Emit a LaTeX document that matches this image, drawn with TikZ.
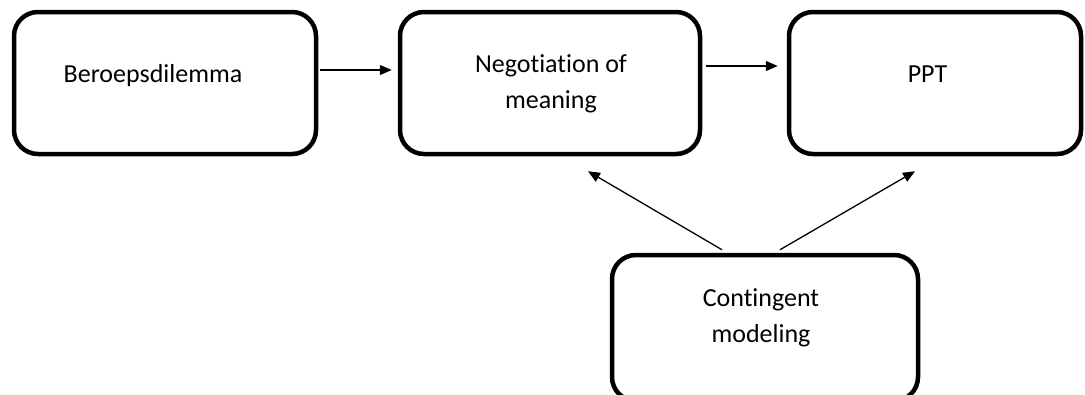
\documentclass[tikz,border=0pt]{standalone}
\usepackage{fontspec}
\setmainfont{Carlito}[Ligatures=NoCommon]
\usepackage{xcolor}
\usetikzlibrary{arrows.meta, positioning, calc}

\tikzset{
  stagebox/.style={draw, line width=4.5pt, rounded corners=24pt,
    minimum height=142pt, inner sep=0pt},
  stagetext/.style={align=center, anchor=base, inner sep=0pt,
    font=\fontsize{26}{36}\selectfont},
  flowarrow/.style={-{Triangle[length=12pt,width=10pt]}, line width=1.3pt}
}

\begin{document}
\begin{tikzpicture}[x=1pt, y=-1pt]
				% Frame
				\useasboundingbox (0,0) rectangle (1085,394);
				\clip (0,0) rectangle (1085,394);
				
				% Boxes
				\node[stagebox, minimum width=302pt] (dilemma) at (165,83) {};
				\node[stagebox, minimum width=300pt] (negotiation) at (550,83) {};
				\node[stagebox, minimum width=292pt] (ppt) at (935,83) {};
				\node[stagebox, minimum width=306pt, minimum height=146pt] (modeling) at (765,328) {};
				
				% Texts (base = last line)
				\node[stagetext] (dilemmatext) at ([xshift=-12pt,yshift=1pt]dilemma.center) {Beroepsdilemma};
				\node[stagetext] (negotiationtext) at ([xshift=1pt,yshift=-25pt]negotiation.center) {Negotiation of\\meaning};
				\node[stagetext] (ppttext) at ([xshift=-7.5pt,yshift=1pt]ppt.center) {PPT};
				\node[stagetext] (modelingtext) at ([xshift=-4pt,yshift=-14pt]modeling.center) {Contingent\\modeling};
				
				% Arrows along the top
				\draw[flowarrow, shorten <=2pt, shorten >=6pt] ([yshift=13pt]dilemma.east) -- ([yshift=13pt]negotiation.west);
				\draw[flowarrow, shorten <=4pt, shorten >=9pt] ([yshift=17pt]negotiation.east) -- ([yshift=17pt]ppt.west);
				
				% Arrows from the bottom box
				\draw[flowarrow] ([xshift=-43pt,yshift=3pt]modeling.north) -- ([xshift=38pt,yshift=-15pt]negotiation.south);
				\draw[flowarrow] ([xshift=15pt,yshift=3pt]modeling.north) -- ([xshift=-20pt,yshift=-15pt]ppt.south);
			\end{tikzpicture}
\end{document}
